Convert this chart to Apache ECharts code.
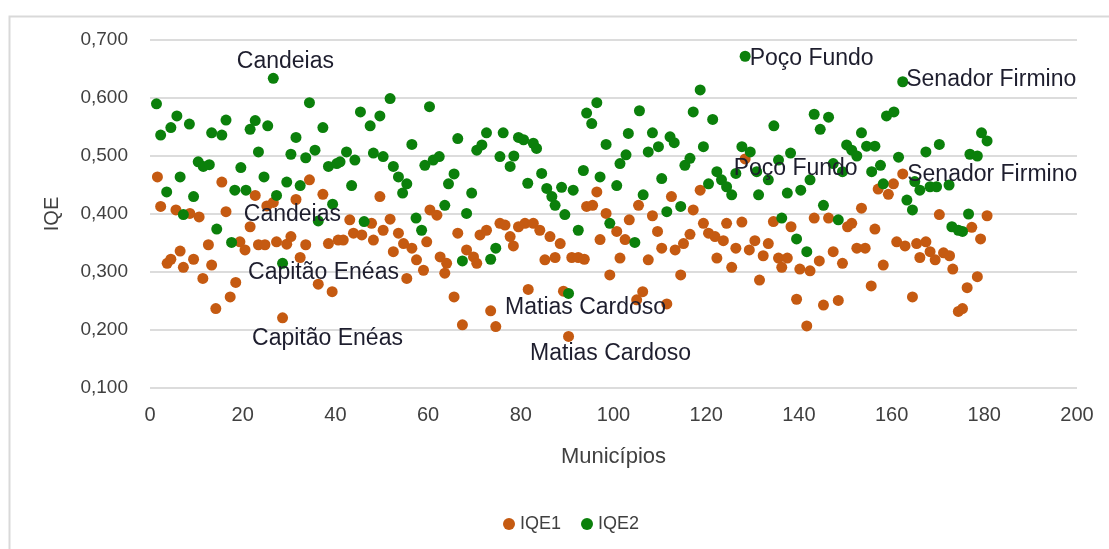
<!DOCTYPE html>
<html>
<head>
<meta charset="utf-8">
<script src="https://cdn.jsdelivr.net/npm/echarts@6/dist/echarts.min.js"></script>
<style>html,body{margin:0;padding:0;background:#fff}#c{width:1109px;height:549px}</style>
</head>
<body>
<div id="c"></div>
<script>
// Municipality index (x) and IQE values
const iqe1X = [1.6,2.3,3.7,4.5,5.6,6.5,7.2,8.6,9.4,10.6,11.4,12.6,13.3,14.2,15.5,16.4,17.3,18.5,19.4,20.5,21.6,22.7,23.4,24.8,25.2,26.6,27.3,28.6,29.5,30.4,31.5,32.4,33.6,34.4,36.3,37.3,38.5,39.3,40.6,41.7,43.1,43.9,45.7,47.8,48.2,49.6,50.3,51.8,52.5,53.6,54.7,55.4,56.5,57.5,59.0,59.7,60.4,61.9,62.6,63.6,64.0,65.6,66.4,67.4,68.3,69.8,70.5,71.2,72.6,73.5,74.6,75.5,76.6,77.7,78.4,79.5,80.9,81.6,82.7,84.1,85.2,86.3,87.4,88.5,89.2,90.3,91.0,92.4,93.7,94.2,95.5,96.4,97.1,98.4,99.2,100.7,101.4,102.5,103.4,105.0,105.4,106.3,107.5,108.4,109.5,110.4,111.5,112.5,113.3,114.5,115.1,116.5,117.2,118.7,119.4,120.5,121.9,122.3,123.7,124.4,125.5,126.4,127.7,128.4,129.3,130.5,131.5,132.3,133.4,134.5,135.6,136.3,137.5,138.3,139.5,140.2,141.7,142.4,143.3,144.4,145.3,146.4,147.4,148.5,149.4,150.5,151.4,152.5,153.5,154.3,155.6,156.4,157.1,158.2,159.3,160.4,161.1,162.4,162.9,164.5,165.4,166.1,167.4,168.3,169.4,170.3,171.2,172.5,173.2,174.4,175.3,176.3,177.3,178.5,179.2,180.6];
const iqe1Y = [0.464,0.413,0.315,0.322,0.407,0.336,0.308,0.401,0.322,0.395,0.289,0.347,0.312,0.237,0.455,0.404,0.257,0.282,0.352,0.338,0.378,0.432,0.347,0.347,0.414,0.420,0.352,0.221,0.348,0.361,0.425,0.325,0.347,0.459,0.279,0.434,0.349,0.266,0.355,0.355,0.390,0.367,0.364,0.384,0.355,0.430,0.372,0.391,0.335,0.367,0.349,0.289,0.341,0.321,0.303,0.352,0.407,0.398,0.326,0.298,0.315,0.257,0.367,0.209,0.338,0.326,0.315,0.364,0.372,0.233,0.206,0.384,0.381,0.361,0.345,0.378,0.384,0.270,0.384,0.372,0.321,0.361,0.325,0.349,0.267,0.189,0.325,0.325,0.322,0.413,0.415,0.438,0.356,0.401,0.295,0.370,0.324,0.356,0.390,0.252,0.415,0.266,0.321,0.397,0.370,0.341,0.245,0.430,0.338,0.295,0.349,0.365,0.407,0.441,0.384,0.367,0.361,0.324,0.354,0.384,0.308,0.341,0.386,0.495,0.338,0.354,0.286,0.328,0.349,0.387,0.324,0.308,0.324,0.378,0.253,0.305,0.207,0.302,0.393,0.319,0.243,0.393,0.335,0.251,0.315,0.378,0.384,0.341,0.410,0.341,0.276,0.374,0.443,0.312,0.434,0.452,0.352,0.469,0.345,0.257,0.349,0.325,0.352,0.335,0.321,0.399,0.333,0.328,0.305,0.232,0.237,0.273,0.377,0.292,0.357,0.397];

const iqe2X = [1.4,2.3,3.6,4.5,5.8,6.5,7.2,8.5,9.4,10.4,11.5,12.8,13.3,14.4,15.5,16.4,17.6,18.3,19.6,20.7,21.6,22.7,23.4,24.6,25.4,26.6,27.3,28.6,29.5,30.4,31.5,32.4,33.6,34.4,35.6,36.3,37.3,38.5,39.4,40.3,41.0,42.4,43.5,44.2,45.4,46.2,47.5,48.2,49.6,50.3,51.8,52.5,53.6,54.5,55.4,56.5,57.4,58.6,59.3,60.3,61.1,62.4,63.6,64.4,65.6,66.4,67.4,68.3,69.4,70.5,71.6,72.6,73.5,74.6,75.5,76.2,77.7,78.5,79.5,80.6,81.5,82.7,83.4,84.5,85.6,86.7,87.4,88.8,89.5,90.3,91.3,92.4,93.5,94.2,95.3,96.4,97.1,98.4,99.2,100.7,101.4,102.7,103.2,104.6,105.6,106.4,107.5,108.4,109.7,110.4,111.5,112.2,113.1,114.5,115.4,116.5,117.2,118.7,119.4,120.5,121.4,122.3,123.3,124.4,125.5,126.4,127.7,128.4,129.5,130.9,131.3,133.4,134.6,135.6,136.3,137.5,138.2,139.5,140.4,141.7,142.4,143.3,144.6,145.3,146.4,147.4,148.5,149.4,150.3,151.4,152.5,153.5,154.6,155.7,156.4,157.6,158.2,158.9,160.5,161.5,162.4,163.3,164.5,165.0,166.1,167.4,168.3,169.7,170.3,172.4,173.0,174.4,175.3,176.6,176.9,178.5,179.4,180.6];
const iqe2Y = [0.590,0.536,0.438,0.549,0.569,0.464,0.399,0.555,0.430,0.490,0.482,0.485,0.540,0.374,0.536,0.562,0.351,0.441,0.480,0.441,0.546,0.561,0.507,0.464,0.552,0.634,0.432,0.315,0.455,0.503,0.532,0.449,0.497,0.592,0.510,0.388,0.549,0.482,0.417,0.487,0.490,0.507,0.449,0.493,0.576,0.387,0.552,0.505,0.569,0.499,0.599,0.482,0.464,0.436,0.452,0.520,0.393,0.372,0.484,0.585,0.493,0.499,0.415,0.452,0.469,0.530,0.319,0.401,0.436,0.510,0.519,0.540,0.322,0.341,0.499,0.540,0.482,0.500,0.532,0.528,0.453,0.522,0.513,0.470,0.444,0.430,0.415,0.446,0.399,0.263,0.441,0.372,0.475,0.574,0.556,0.592,0.464,0.520,0.384,0.449,0.487,0.502,0.539,0.351,0.578,0.433,0.507,0.540,0.516,0.461,0.404,0.533,0.523,0.413,0.484,0.496,0.576,0.614,0.516,0.452,0.563,0.473,0.459,0.447,0.433,0.470,0.516,0.672,0.507,0.473,0.433,0.459,0.552,0.493,0.393,0.436,0.505,0.357,0.441,0.335,0.459,0.572,0.546,0.415,0.567,0.487,0.390,0.473,0.519,0.510,0.500,0.540,0.517,0.473,0.517,0.484,0.452,0.569,0.576,0.498,0.628,0.424,0.407,0.456,0.441,0.507,0.447,0.447,0.520,0.450,0.378,0.372,0.370,0.400,0.503,0.500,0.540,0.526];

const labelNames = ['Candeias', 'Capitão Enéas', 'Matias Cardoso', 'Poço Fundo', 'Senador Firmino'];
const labelX = [26.6, 28.6, 90.3, 128.4, 162.4];

const yTicks = [0.1, 0.2, 0.3, 0.4, 0.5, 0.6, 0.7];
const xTicks = [0, 20, 40, 60, 80, 100, 120, 140, 160, 180, 200];

// label placement (style) relative to the marker
const labelOffsets = {
  IQE1: {'Candeias':[-24,18], 'Capitão Enéas':[-25,26], 'Matias Cardoso':[-33,23], 'Poço Fundo':[-6,15], 'Senador Firmino':[10,6]},
  IQE2: {'Candeias':[-31,-11], 'Capitão Enéas':[-29,15], 'Matias Cardoso':[-58,20], 'Poço Fundo':[10,8], 'Senador Firmino':[9,3]}
};

function build(xs, ys, key) {
  return xs.map((x, i) => {
    const k = labelX.indexOf(x);
    const item = { value: [x, ys[i]] };
    if (k >= 0) {
      const nm = labelNames[k];
      item.label = {
        show: true, formatter: nm, position: labelOffsets[key][nm],
        align: 'left', verticalAlign: 'middle',
        fontFamily: 'Liberation Sans, Arial, sans-serif', fontSize: 23, color: '#1e1e2e'
      };
    }
    return item;
  });
}

const FONT = 'Liberation Sans, Arial, sans-serif';
const chart = echarts.init(document.getElementById('c'), null, { renderer: 'canvas' });
chart.setOption({
  animation: false,
  backgroundColor: '#fff',
  graphic: [{
    type: 'rect', left: 7, top: 14, z: -1,
    shape: { width: 1120, height: 560 },
    style: { fill: 'none', stroke: '#D9D9D9', lineWidth: 2 }
  }],
  grid: { left: 150, right: 32, top: 40, bottom: 161 },
  legend: {
    left: 498, top: 510, itemWidth: 12, itemHeight: 12, itemGap: 20,
    icon: 'circle',
    textStyle: { fontFamily: FONT, fontSize: 18, color: '#404040' },
    data: ['IQE1', 'IQE2']
  },
  xAxis: {
    type: 'value', min: xTicks[0], max: xTicks[xTicks.length - 1], interval: 20,
    name: 'Municípios', nameLocation: 'middle', nameGap: 58,
    nameTextStyle: { fontFamily: FONT, fontSize: 22, color: '#404040' },
    axisLine: { show: false }, axisTick: { show: false }, splitLine: { show: false },
    axisLabel: { margin: 17, fontFamily: FONT, fontSize: 20, color: '#404040' }
  },
  yAxis: {
    type: 'value', min: yTicks[0], max: yTicks[yTicks.length - 1], interval: 0.1,
    name: 'IQE', nameLocation: 'middle', nameGap: 88, nameRotate: 90,
    nameTextStyle: { fontFamily: FONT, fontSize: 20, color: '#404040' },
    axisLine: { show: false }, axisTick: { show: false },
    splitLine: { lineStyle: { color: '#DCDCDC', width: 2 } },
    axisLabel: {
      margin: 22, fontFamily: FONT, fontSize: 19, color: '#404040',
      formatter: v => v.toFixed(3).replace('.', ',')
    }
  },
  series: [
    { name: 'IQE1', type: 'scatter', symbolSize: 11, itemStyle: { color: '#C55A11', opacity: 1 },
      data: build(iqe1X, iqe1Y, 'IQE1'), labelLayout: { hideOverlap: false } },
    { name: 'IQE2', type: 'scatter', symbolSize: 11, itemStyle: { color: '#0B800B', opacity: 1 },
      data: build(iqe2X, iqe2Y, 'IQE2'), labelLayout: { hideOverlap: false } }
  ]
});
</script>
</body>
</html>
